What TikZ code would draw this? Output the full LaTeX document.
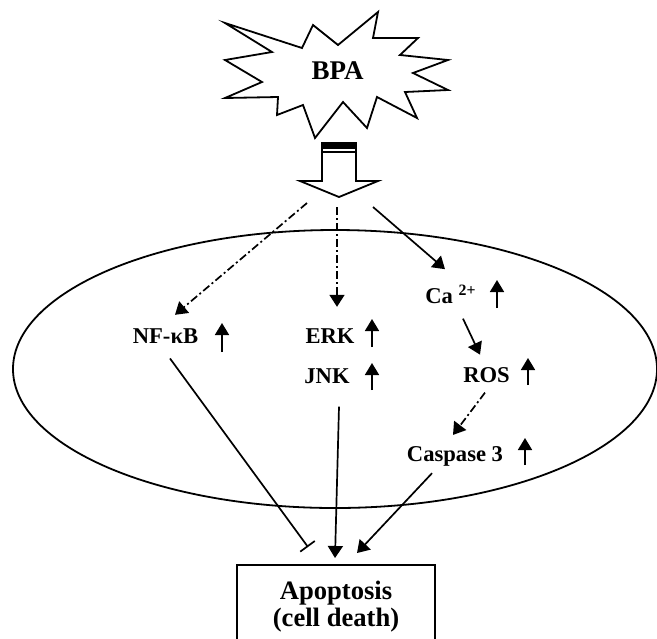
\documentclass[tikz,border=0pt]{standalone}
\usepackage{fontspec}
\setmainfont{Liberation Serif}
\usepackage{tikz}
\usetikzlibrary{arrows.meta,calc}

\begin{document}
\begin{tikzpicture}[x=0.5pt,y=-0.5pt,
  lbl/.style={font=\bfseries\fontsize{11.3}{13}\selectfont,inner sep=0pt,anchor=base},
  rise/.style={-{Triangle[length=6pt,width=7pt]},line width=0.9pt},
  act/.style={-{Triangle[length=6pt,width=7.5pt]},line width=0.85pt},
  dd/.style={act,dash pattern=on 4pt off 1.5pt on 1pt off 1.5pt},
  block/.style={-{Bar[width=9pt]},line width=0.85pt}]
  \useasboundingbox (0,0) rectangle (657,638);
  \clip (0,0) rectangle (657,638);
  % the cell
  \draw[line width=0.9pt] (335,369) ellipse [x radius=322,y radius=139];
  % BPA burst
  \draw[line width=0.9pt,line join=miter] (225,23) -- (302,48) -- (313,25) -- (338,45) -- (378,12)
    -- (373,38) -- (418,38) -- (400,55) -- (448,60) -- (413,73) -- (448,90) -- (405,92)
    -- (417,118) -- (377,97) -- (367,128) -- (343,102) -- (315,138) -- (303,105)
    -- (277,115) -- (278,97) -- (225,98) -- (262,82) -- (225,60) -- (272,52) -- cycle;
  \node[lbl,font=\bfseries\fontsize{13.5}{15}\selectfont] (bpa) at (337.5,79) {BPA};
  % big arrow
  \filldraw[fill=white,line width=0.9pt] (322,143) -- (356,143) -- (356,181) -- (378,181)
    -- (339,197) -- (300,181) -- (322,181) -- cycle;
  \fill (322,143) rectangle (356,149);
  \draw[line width=1pt] (322,151.5) -- (356,151.5);
  \coordinate (tip) at (339,197);
  % labels
  \node[lbl] (nfkb) at (165.5,343) {NF-κB};
  \node[lbl] (erk) at (330,343) {ERK};
  \node[lbl] (jnk) at (327,383) {JNK};
  \node[lbl] (ca) at (451,303) {Ca\ \textsuperscript{2+}};
  \node[lbl] (ros) at (486.5,382) {ROS};
  \node[lbl] (casp) at (455,461) {Caspase 3};
  \node[draw,line width=1pt,anchor=north,minimum width=99pt,inner ysep=8pt,align=center,
    font=\bfseries\fontsize{13.3}{13.5}\selectfont] (apo) at (336,564) {Apoptosis\\(cell death)};
  % up arrows
  \draw[rise] ($(nfkb.base)+(56.5,9)$) -- ++(0,-29);
  \draw[rise] ($(erk.base)+(42,4)$) -- ++(0,-28);
  \draw[rise] ($(jnk.base)+(45,7)$) -- ++(0,-27);
  \draw[rise] ($(ca.base)+(46,5)$) -- ++(0,-28);
  \draw[rise] ($(ros.base)+(41.5,3)$) -- ++(0,-27);
  \draw[rise] ($(casp.base)+(70,4)$) -- ++(0,-27);
  % pathways
  \draw[dd] ($(tip)+(-32,6)$) -- ($(nfkb.north)+(9.5,-13)$);
  \draw[dd] ($(tip)+(-2,10)$) -- ($(erk.north)+(7,-21)$);
  \draw[act] ($(tip)+(34,10)$) -- ($(ca.north)+(-6,-15)$);
  \draw[act] ($(ca.south)+(12,15)$) -- ($(ros.north)+(-6.5,-12)$);
  \draw[dd] ($(ros.south)+(-1.5,10)$) -- ($(casp.north)+(-2,-10.7)$);
  \draw[block] ($(nfkb.south)+(4.5,15)$) -- ($(apo.north)+(-28,-17)$);
  \draw[act] ($(jnk.south)+(12,23)$) -- ($(apo.north)+(-1,-6)$);
  \draw[act] ($(casp.south)+(-23,7)$) -- ($(apo.north)+(21,-11)$);
\end{tikzpicture}
\end{document}
